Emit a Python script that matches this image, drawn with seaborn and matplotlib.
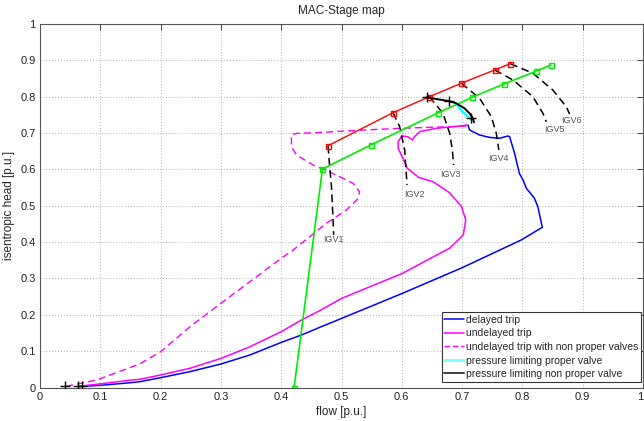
import numpy as np
import pandas as pd
import matplotlib
matplotlib.use("Agg")
import matplotlib.pyplot as plt
from matplotlib.lines import Line2D
import seaborn as sns

# ---- compressor map data (per-unit) ----
surge_flow = [0.4777, 0.5854, 0.6457, 0.6988, 0.7540, 0.7800]
surge_head = [0.665, 0.756, 0.800, 0.837, 0.8735, 0.8908]

ctrl_flow = [0.4214, 0.4684, 0.5496, 0.6595, 0.7163, 0.7693, 0.8224, 0.8472]
ctrl_head = [0.000, 0.601, 0.668, 0.755, 0.798, 0.835, 0.870, 0.887]

igv_names = ["IGV1", "IGV2", "IGV3", "IGV4", "IGV5", "IGV6"]
igv1_flow = [0.4777, 0.4795, 0.4834, 0.4860, 0.4870]
igv1_head = [0.665, 0.626, 0.552, 0.461, 0.420]
igv2_flow = [0.5854, 0.5965, 0.6048, 0.6087]
igv2_head = [0.756, 0.7175, 0.653, 0.557]
igv3_flow = [0.6457, 0.6683, 0.6794, 0.6838, 0.6860]
igv3_head = [0.800, 0.7543, 0.6993, 0.6534, 0.6121]
igv4_flow = [0.6988, 0.7290, 0.7485, 0.7567, 0.7610]
igv4_head = [0.837, 0.7956, 0.745, 0.6993, 0.6534]
igv5_flow = [0.7540, 0.7843, 0.8174, 0.8340, 0.8396]
igv5_head = [0.8735, 0.846, 0.800, 0.7543, 0.731]
igv6_flow = [0.7800, 0.8174, 0.8505, 0.8727, 0.8782]
igv6_head = [0.8908, 0.8644, 0.8184, 0.7725, 0.7524]
igv_label_flow = [0.4872, 0.6214, 0.6810, 0.7594, 0.8528, 0.8815]
igv_label_head = [0.406, 0.5296, 0.5865, 0.6305, 0.7084, 0.734]

delayed_flow = [0.7097, 0.7125, 0.729, 0.7457, 0.762, 0.776, 0.7788, 0.787, 0.795,
                0.801, 0.8065, 0.820, 0.8257, 0.833, 0.798, 0.7016, 0.601, 0.500,
                0.464, 0.4336, 0.400, 0.348, 0.300, 0.2485, 0.200, 0.1657, 0.149,
                0.100, 0.069]
delayed_head = [0.722, 0.7084, 0.6946, 0.688, 0.6856, 0.692, 0.690, 0.644, 0.589,
                0.571, 0.548, 0.5205, 0.497, 0.4407, 0.4058, 0.3307, 0.259, 0.190,
                0.1656, 0.1444, 0.124, 0.0894, 0.0646, 0.0435, 0.027, 0.016, 0.013,
                0.006, 0.003]

undelayed_flow = [0.708, 0.696, 0.657, 0.630, 0.621, 0.618, 0.610, 0.600, 0.594,
                  0.594, 0.602, 0.609, 0.628, 0.652, 0.679, 0.699, 0.706, 0.702,
                  0.680, 0.601, 0.500, 0.464, 0.4336, 0.400, 0.348, 0.300,
                  0.2485, 0.200, 0.1657, 0.149, 0.100, 0.063]
undelayed_head = [0.722, 0.7194, 0.713, 0.704, 0.690, 0.681, 0.690, 0.692, 0.676,
                  0.658, 0.630, 0.603, 0.578, 0.566, 0.536, 0.498, 0.461, 0.420,
                  0.384, 0.314, 0.245, 0.2115, 0.1857, 0.1535, 0.112, 0.080,
                  0.0528, 0.0344, 0.0226, 0.020, 0.010, 0.003]

nonproper_flow = [0.707, 0.679, 0.5965, 0.5137, 0.4585, 0.4253, 0.417, 0.417, 0.4253,
                  0.453, 0.4916, 0.519, 0.530, 0.5275, 0.508, 0.475, 0.4197, 0.400,
                  0.348, 0.300, 0.2485, 0.200, 0.1657, 0.094, 0.042]
nonproper_head = [0.7194, 0.7175, 0.713, 0.7065, 0.701, 0.699, 0.6946, 0.6625, 0.6396,
                  0.612, 0.5846, 0.5617, 0.5387, 0.520, 0.488, 0.452, 0.378, 0.3554,
                  0.291, 0.2316, 0.167, 0.0985, 0.065, 0.0206, 0.003]

plim_proper_flow = [0.690, 0.698, 0.7097, 0.7153]
plim_proper_head = [0.782, 0.7635, 0.745, 0.736]

plim_nonproper_flow = [0.641, 0.678, 0.690, 0.704, 0.7125, 0.718, 0.7196]
plim_nonproper_head = [0.798, 0.788, 0.782, 0.768, 0.754, 0.7406, 0.7296]
plim_cross_flow = [0.641, 0.678, 0.714]
plim_cross_head = [0.798, 0.788, 0.741]

trip_end_flow = [0.042, 0.063, 0.069]
trip_end_head = [0.003, 0.003, 0.003]

xticks = [0, 0.1, 0.2, 0.3, 0.4, 0.5, 0.6, 0.7, 0.8, 0.9, 1]
xtick_labels = ["0", "0.1", "0.2", "0.3", "0.4", "0.5", "0.6", "0.7", "0.8", "0.9", "1"]
yticks = [0, 0.1, 0.2, 0.3, 0.4, 0.5, 0.6, 0.7, 0.8, 0.9, 1]
ytick_labels = ["0", "0.1", "0.2", "0.3", "0.4", "0.5", "0.6", "0.7", "0.8", "0.9", "1"]

sns.set_theme(style="white")
plt.rcParams["font.family"] = ["Liberation Sans", "DejaVu Sans"]

fig = plt.figure(figsize=(6.44, 4.21), dpi=100)
ax = fig.add_axes([40 / 644, (421 - 387.5) / 421, 603 / 644, 363.5 / 421])


def curve(xs, ys, **kw):
    sns.lineplot(x=xs, y=ys, sort=False, estimator=None, ax=ax, legend=False, **kw)


# trip trajectories
curve(delayed_flow, delayed_head, color="#0000ff", linewidth=1.1)
curve(undelayed_flow, undelayed_head, color="#ff00ff", linewidth=1.1)
curve(nonproper_flow, nonproper_head, color="#ff00ff", linewidth=1.0,
      linestyle=(0, (5, 3)))

# IGV characteristic lines
for fx, hy in [(igv1_flow, igv1_head), (igv2_flow, igv2_head), (igv3_flow, igv3_head),
               (igv4_flow, igv4_head), (igv5_flow, igv5_head), (igv6_flow, igv6_head)]:
    curve(fx, hy, color="black", linewidth=1.1, linestyle=(0, (5, 3)))
for name, lx, ly in zip(igv_names, igv_label_flow, igv_label_head):
    ax.text(lx, ly, name, fontsize=6.5, color="#555555", ha="center", va="center")

# surge line and control line
curve(surge_flow, surge_head, color="#ff0000", linewidth=1.0, marker="s",
      markersize=3.6, markerfacecolor="none", markeredgecolor="#ff0000",
      markeredgewidth=1.0)
curve(ctrl_flow, ctrl_head, color="#00ee00", linewidth=1.2, marker="s",
      markersize=3.6, markerfacecolor="none", markeredgecolor="#00ee00",
      markeredgewidth=1.0)

# pressure limiting paths
curve(plim_proper_flow, plim_proper_head, color="#00ffff", linewidth=1.6)
curve(plim_nonproper_flow, plim_nonproper_head, color="black", linewidth=1.4)
sns.scatterplot(x=plim_cross_flow, y=plim_cross_head, marker="+", s=60,
                color="black", linewidth=1.0, ax=ax, legend=False, zorder=5)
sns.scatterplot(x=trip_end_flow, y=trip_end_head, marker="+", s=60,
                color="black", linewidth=1.0, ax=ax, legend=False, zorder=5)

ax.set_xlim(0, 1)
ax.set_ylim(0, 1)
ax.set_xticks(xticks)
ax.set_xticklabels(xtick_labels)
ax.set_yticks(yticks)
ax.set_yticklabels(ytick_labels)
ax.tick_params(direction="in", length=4, width=0.6, labelsize=8, colors="#222222",
               top=True, right=True, pad=3)
ax.get_xticklabels()[-1].set_horizontalalignment("right")
ax.grid(True, linestyle=(0, (1, 2)), color="#b0b0b0", linewidth=0.7)
for sp in ax.spines.values():
    sp.set_color("#555555")
    sp.set_linewidth(0.8)

ax.set_title("MAC-Stage map", fontsize=8.5, pad=7)
ax.set_xlabel("flow [p.u.]", fontsize=8.5, labelpad=3)
ax.set_ylabel("isentropic head [p.u.]", fontsize=8.5, labelpad=4)

handles = [
    Line2D([], [], color="#0000ff", linewidth=1.1),
    Line2D([], [], color="#ff00ff", linewidth=1.1),
    Line2D([], [], color="#ff00ff", linewidth=1.0, linestyle=(0, (4, 2))),
    Line2D([], [], color="#80ffff", linewidth=2.2),
    Line2D([], [], color="#333333", linewidth=1.3),
]
labels = ["delayed trip", "undelayed trip", "undelayed trip with non proper valves",
          "pressure limiting proper valve", "pressure limiting non proper valve"]
leg = ax.legend(handles, labels, loc="lower right", bbox_to_anchor=(0.996, 0.016),
                fontsize=7.5, frameon=True, fancybox=False, edgecolor="#333333",
                framealpha=1, borderpad=0.25, labelspacing=0.34, handlelength=1.9,
                handletextpad=0.15, borderaxespad=0)
leg.get_frame().set_linewidth(0.8)

fig.savefig("out.png", dpi=100)
